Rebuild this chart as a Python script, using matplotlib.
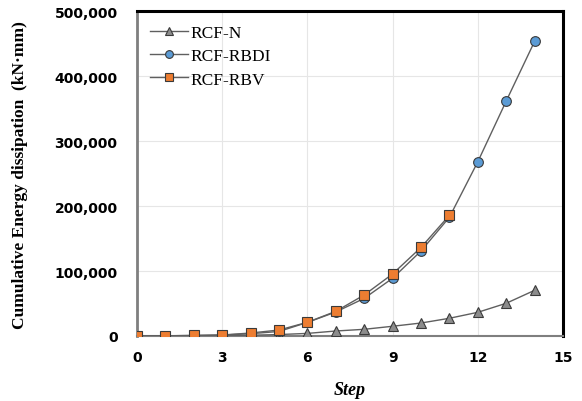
import matplotlib
matplotlib.use("Agg")
import matplotlib.pyplot as plt
from matplotlib.ticker import FuncFormatter, MultipleLocator

steps = list(range(0, 15))
rcf_n = [0, 100, 300, 600, 1200, 2200, 4000, 7700, 10300, 15000, 20000, 27300, 36500, 50400, 70400]
rcf_rbdi = [0, 300, 800, 1500, 3500, 7000, 21000, 37000, 58000, 89000, 131000, 183000, 268500, 362000, 454000]
rcf_rbv = [0, 300, 800, 1500, 4600, 9200, 21100, 38000, 63200, 95600, 136500, 186000]
series_names = ["RCF-N", "RCF-RBDI", "RCF-RBV"]

fig = plt.figure(figsize=(5.82, 4.02), dpi=100)
ax = fig.add_axes([0.2354, 0.1617, 0.732, 0.8073])

line_kw = dict(color="#5f5f5f", lw=1.0, markeredgecolor="#3a3a3a", markeredgewidth=0.8, markersize=7)
ax.plot(steps, rcf_n, marker="^", markerfacecolor="#8c8c8c", label=series_names[0], zorder=3, **line_kw)
ax.plot(steps, rcf_rbdi, marker="o", markerfacecolor="#5b9bd5", label=series_names[1], zorder=4, **line_kw)
ax.plot(steps[:len(rcf_rbv)], rcf_rbv, marker="s", markerfacecolor="#ed7d31", label=series_names[2], zorder=5, **line_kw)

ax.set_xlim(0, 15)
ax.set_ylim(0, 500000)
ax.xaxis.set_major_locator(MultipleLocator(3))
ax.yaxis.set_major_locator(MultipleLocator(100000))
ax.yaxis.set_major_formatter(FuncFormatter(lambda v, p: f"{int(v):,}"))
ax.grid(True, color="#e6e6e6", lw=0.8)
ax.set_axisbelow(True)
ax.tick_params(axis="y", length=0, pad=14)
ax.tick_params(axis="x", length=0, pad=10)
for lab in ax.get_xticklabels() + ax.get_yticklabels():
    lab.set_fontweight("bold")
    lab.set_fontsize(10)
    lab.set_family("DejaVu Sans")

for s in ["top", "right"]:
    ax.spines[s].set_color("black")
    ax.spines[s].set_linewidth(2.2)
ax.spines["left"].set_color("#7f7f7f")
ax.spines["left"].set_linewidth(2.0)
ax.spines["bottom"].set_color("#7f7f7f")
ax.spines["bottom"].set_linewidth(1.5)

ax.set_xlabel("Step", family="Liberation Serif", fontweight="bold", style="italic", fontsize=13, labelpad=12)
ax.set_ylabel("Cumulative Energy dissipation  (kN\u00b7mm)", family="Liberation Serif", fontweight="bold", fontsize=12.5, labelpad=19)

leg = ax.legend(loc="upper left", frameon=False, prop={"family": "Liberation Serif", "size": 12.5},
                handlelength=2.2, handletextpad=0.1, labelspacing=0.42, borderaxespad=0.35,
                markerscale=0.8)

fig.savefig("out.png", dpi=100)
